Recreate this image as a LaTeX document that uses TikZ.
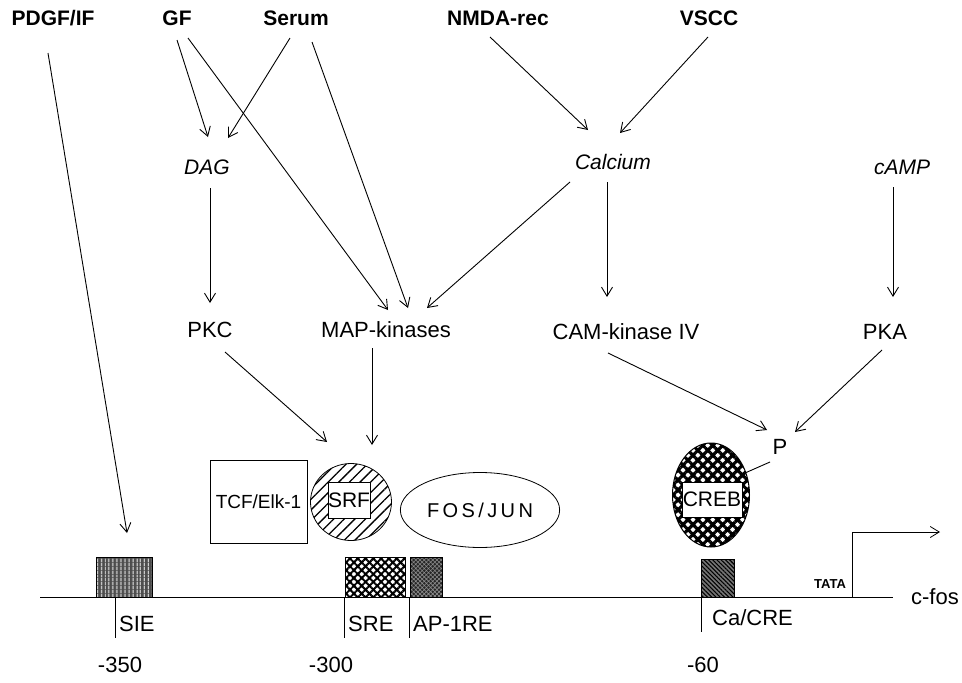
\documentclass[tikz,border=0pt]{standalone}
\usepackage{fontspec}
\setmainfont{Liberation Sans}
\usetikzlibrary{arrows.meta,patterns.meta,shapes.geometric}

\tikzset{
  src/.style={font=\fontsize{21}{24}\selectfont\bfseries, inner sep=0pt},
  msg/.style={font=\fontsize{21}{24}\selectfont\itshape, inner sep=0pt},
  kin/.style={font=\fontsize{22}{24}\selectfont, inner sep=0pt},
  elem/.style={font=\fontsize{22}{24}\selectfont, inner sep=0pt, anchor=west},
  bplabel/.style={font=\fontsize{22}{24}\selectfont, inner sep=0pt},
  sig/.style={line width=0.9pt, -{Straight Barb[length=9pt,width=11pt,line width=0.9pt]}},
  dnaline/.style={line width=0.9pt},
  tfbox/.style={draw, line width=0.8pt, fill=white, inner sep=0pt},
  site/.style={draw, line width=0.6pt, minimum height=40, inner sep=0pt},
}

\begin{document}
\begin{tikzpicture}[x=1pt,y=-1pt]
\useasboundingbox (0,0) rectangle (962,683);

% ---- extracellular signals
\node[src] (pdgf)  at (53,18)  {PDGF/IF};
\node[src] (gf)    at (177,18) {GF};
\node[src] (serum) at (296,18) {Serum};
\node[src] (nmda)  at (498,18) {NMDA-rec};
\node[src] (vscc)  at (709,18) {VSCC};

% ---- second messengers
\node[msg] (dag)     at (207,167) {DAG};
\node[msg] (calcium) at (613,162) {Calcium};
\node[msg] (camp)    at (902,167) {cAMP};

% ---- kinases
\node[kin] (pkc) at (210,330) {PKC};
\node[kin] (map) at (386,330) {MAP-kinases};
\node[kin] (cam) at (626,332) {CAM-kinase IV};
\node[kin] (pka) at (885,332) {PKA};
\node[kin] (p)   at (780,447) {P};

% ---- transcription factors
\node[tfbox, minimum width=97, minimum height=83, font=\fontsize{19}{22}\selectfont]
  (tcf) at (258.5,501.5) {TCF/Elk-1};
\node[ellipse, draw, line width=0.8pt, minimum width=81, minimum height=77,
      pattern={Lines[angle=45,distance=7.5pt,line width=1.3pt]}] (srf) at (351,502) {};
\node[tfbox, minimum width=42, minimum height=36, font=\fontsize{21}{22}\selectfont]
  (srflab) at (349,500) {SRF};
\node[ellipse, draw, line width=0.8pt, minimum width=135, minimum height=75,
      font=\fontsize{20}{22}\selectfont\addfontfeature{LetterSpace=17}] (fosjun) at (480,510) {FOS/JUN};
\node[ellipse, draw, line width=1pt, minimum width=77, minimum height=104,
      preaction={fill=white},
      pattern={Hatch[angle=45,distance=7pt,line width=3.1pt]}] (creb) at (711,495) {};
\node[tfbox, minimum width=60, minimum height=35, font=\fontsize{21}{22}\selectfont]
  (creblab) at (712,499.5) {CREB};

% ---- promoter elements on the DNA
\node[site, minimum width=56, preaction={fill=black!70},
      pattern={Lines[angle=90,distance=4pt,line width=1pt]}, pattern color=white!85!black] (sie) at (124,577) {};
\node[site, minimum width=60, preaction={fill=white},
      pattern={Hatch[angle=45,distance=5.5pt,line width=2pt]}] (sre) at (375,577) {};
\node[site, minimum width=32, preaction={fill=black!85},
      pattern={Hatch[angle=45,distance=3pt,line width=0.6pt]}, pattern color=black!45] (ap1) at (426,577) {};
\node[site, minimum width=33, minimum height=38, preaction={fill=black!55},
      pattern={Lines[angle=-45,distance=3pt,line width=1.1pt]}] (cacre) at (717.5,578) {};

% DNA strand and position marks
\draw[dnaline] (40,597) -- (893,597);
\draw[dnaline] (115,597) -- (115,638);
\draw[dnaline] (344,597) -- (344,638);
\draw[dnaline] (409,597) -- (409,638);
\draw[dnaline] (701,597) -- (701,632);

\node[elem] (sielab)  at (119,624) {SIE};
\node[elem] (srelab)  at (348,624) {SRE};
\node[elem] (ap1lab)  at (413,624) {AP-1RE};
\node[elem] (cacrelab) at (712,618) {Ca/CRE};

\node[bplabel] (m350) at (120,665) {-350};
\node[bplabel] (m300) at (331,665) {-300};
\node[bplabel] (m60)  at (703,665) {-60};

\node[elem, anchor=center] (cfos) at (935,597) {c-fos};
\node[font=\fontsize{13}{14}\selectfont\bfseries, inner sep=0pt] (tata) at (830,584) {TATA};

% transcription start
\coordinate (tss) at (852,597);
\coordinate (txend) at (940,532);
\draw[line width=0.8pt, -{Straight Barb[length=9pt,width=11pt,line width=0.8pt]}] (tss) |- (txend);

% ---- signalling connections
\draw[sig] ([shift={(-5,35)}]pdgf.center) -- ([shift={(3,-44)}]sie.center);
\draw[sig] ([shift={(0,22)}]gf.center) -- ([shift={(1,-30)}]dag.center);
\draw[sig] ([shift={(11,20)}]gf.center) -- ([shift={(2,-20)}]map.center);
\draw[sig] ([shift={(-6,20)}]serum.center) -- ([shift={(21,-29)}]dag.center);
\draw[sig] ([shift={(16,24)}]serum.center) -- ([shift={(22,-22)}]map.center);
\draw[sig] ([shift={(-8,19)}]nmda.center) -- ([shift={(-25,-32)}]calcium.center);
\draw[sig] ([shift={(-1,19)}]vscc.center) -- ([shift={(7,-29)}]calcium.center);
\draw[sig] ([shift={(-43,20)}]calcium.center) -- ([shift={(41,-22)}]map.center);
\draw[sig] ([shift={(-6,20)}]calcium.center) -- ([shift={(-19,-35)}]cam.center);
\draw[sig] ([shift={(3,21)}]dag.center) -- ([shift={(0,-27)}]pkc.center);
\draw[sig] ([shift={(-9,20)}]camp.center) -- ([shift={(8,-35)}]pka.center);
\draw[sig] ([shift={(15,22)}]pkc.center) -- ([shift={(-24,-60)}]srf.center);
\draw[sig] ([shift={(-14,18)}]map.center) -- ([shift={(21,-57)}]srf.center);
\draw[sig] ([shift={(-18,21)}]cam.center) -- ([shift={(-13,-17)}]p.center);
\draw[sig] ([shift={(-3,18)}]pka.center) -- ([shift={(15,-15)}]p.center);
\draw[dnaline] ([shift={(-10,15)}]p.center) -- ([shift={(34,-22)}]creb.center);

\end{tikzpicture}
\end{document}
